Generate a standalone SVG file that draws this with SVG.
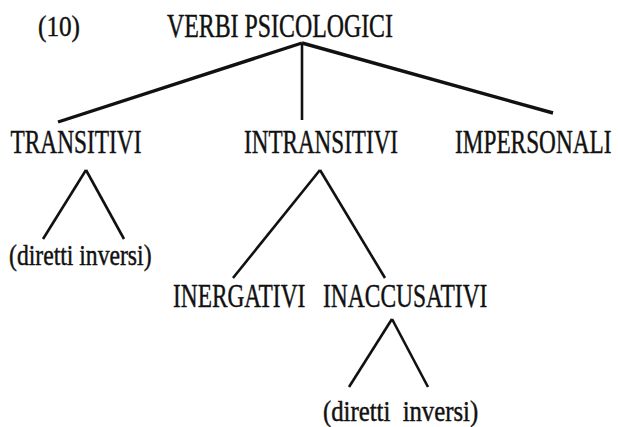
<svg xmlns="http://www.w3.org/2000/svg" width="618" height="427" viewBox="0 0 618 427">
<style>
text{font-family:"Liberation Serif","Times New Roman",serif;fill:#111;stroke:#111;stroke-width:0.45;white-space:pre}
.cap{font-size:34px}
.sm{font-size:29px}
.edge{stroke:#111;stroke-width:2.6;fill:none;stroke-linecap:butt}
.top{stroke-width:3.4}
</style>
<rect width="618" height="427" fill="#fff"/>
<g id="connectors">
<line class="edge top" x1="302" y1="43" x2="58" y2="122"/>
<line class="edge" x1="302" y1="43" x2="302" y2="120"/>
<line class="edge top" x1="302" y1="43" x2="553" y2="113"/>
<line class="edge" x1="86" y1="170" x2="43" y2="239"/>
<line class="edge" x1="86" y1="170" x2="124" y2="239"/>
<line class="edge" x1="320" y1="170" x2="233" y2="278"/>
<line class="edge" x1="320" y1="170" x2="385" y2="278"/>
<line class="edge" x1="392" y1="319" x2="349" y2="387"/>
<line class="edge" x1="392" y1="319" x2="428" y2="387"/>
</g>
<g id="label-10"><text class="sm" transform="translate(38,36) scale(0.87,1)">(10)</text></g>
<g id="node-root"><text class="cap" transform="translate(167,36.5) scale(0.702,1)">VERBI PSICOLOGICI</text></g>
<g id="node-transitivi"><text class="cap" transform="translate(10.5,152.5) scale(0.687,1)">TRANSITIVI</text></g>
<g id="node-intransitivi"><text class="cap" transform="translate(244,152.5) scale(0.68,1)">INTRANSITIVI</text></g>
<g id="node-impersonali"><text class="cap" transform="translate(455,152.5) scale(0.685,1)">IMPERSONALI</text></g>
<g id="node-diretti-inversi-1"><text class="sm" transform="translate(9,265) scale(0.816,1)">(diretti inversi)</text></g>
<g id="node-inergativi"><text class="cap" transform="translate(173,306.5) scale(0.687,1)">INERGATIVI</text></g>
<g id="node-inaccusativi"><text class="cap" transform="translate(323,306.5) scale(0.691,1)">INACCUSATIVI</text></g>
<g id="node-diretti-inversi-2"><text class="sm" transform="translate(323,421) scale(0.853,1)">(diretti  inversi)</text></g>
</svg>
